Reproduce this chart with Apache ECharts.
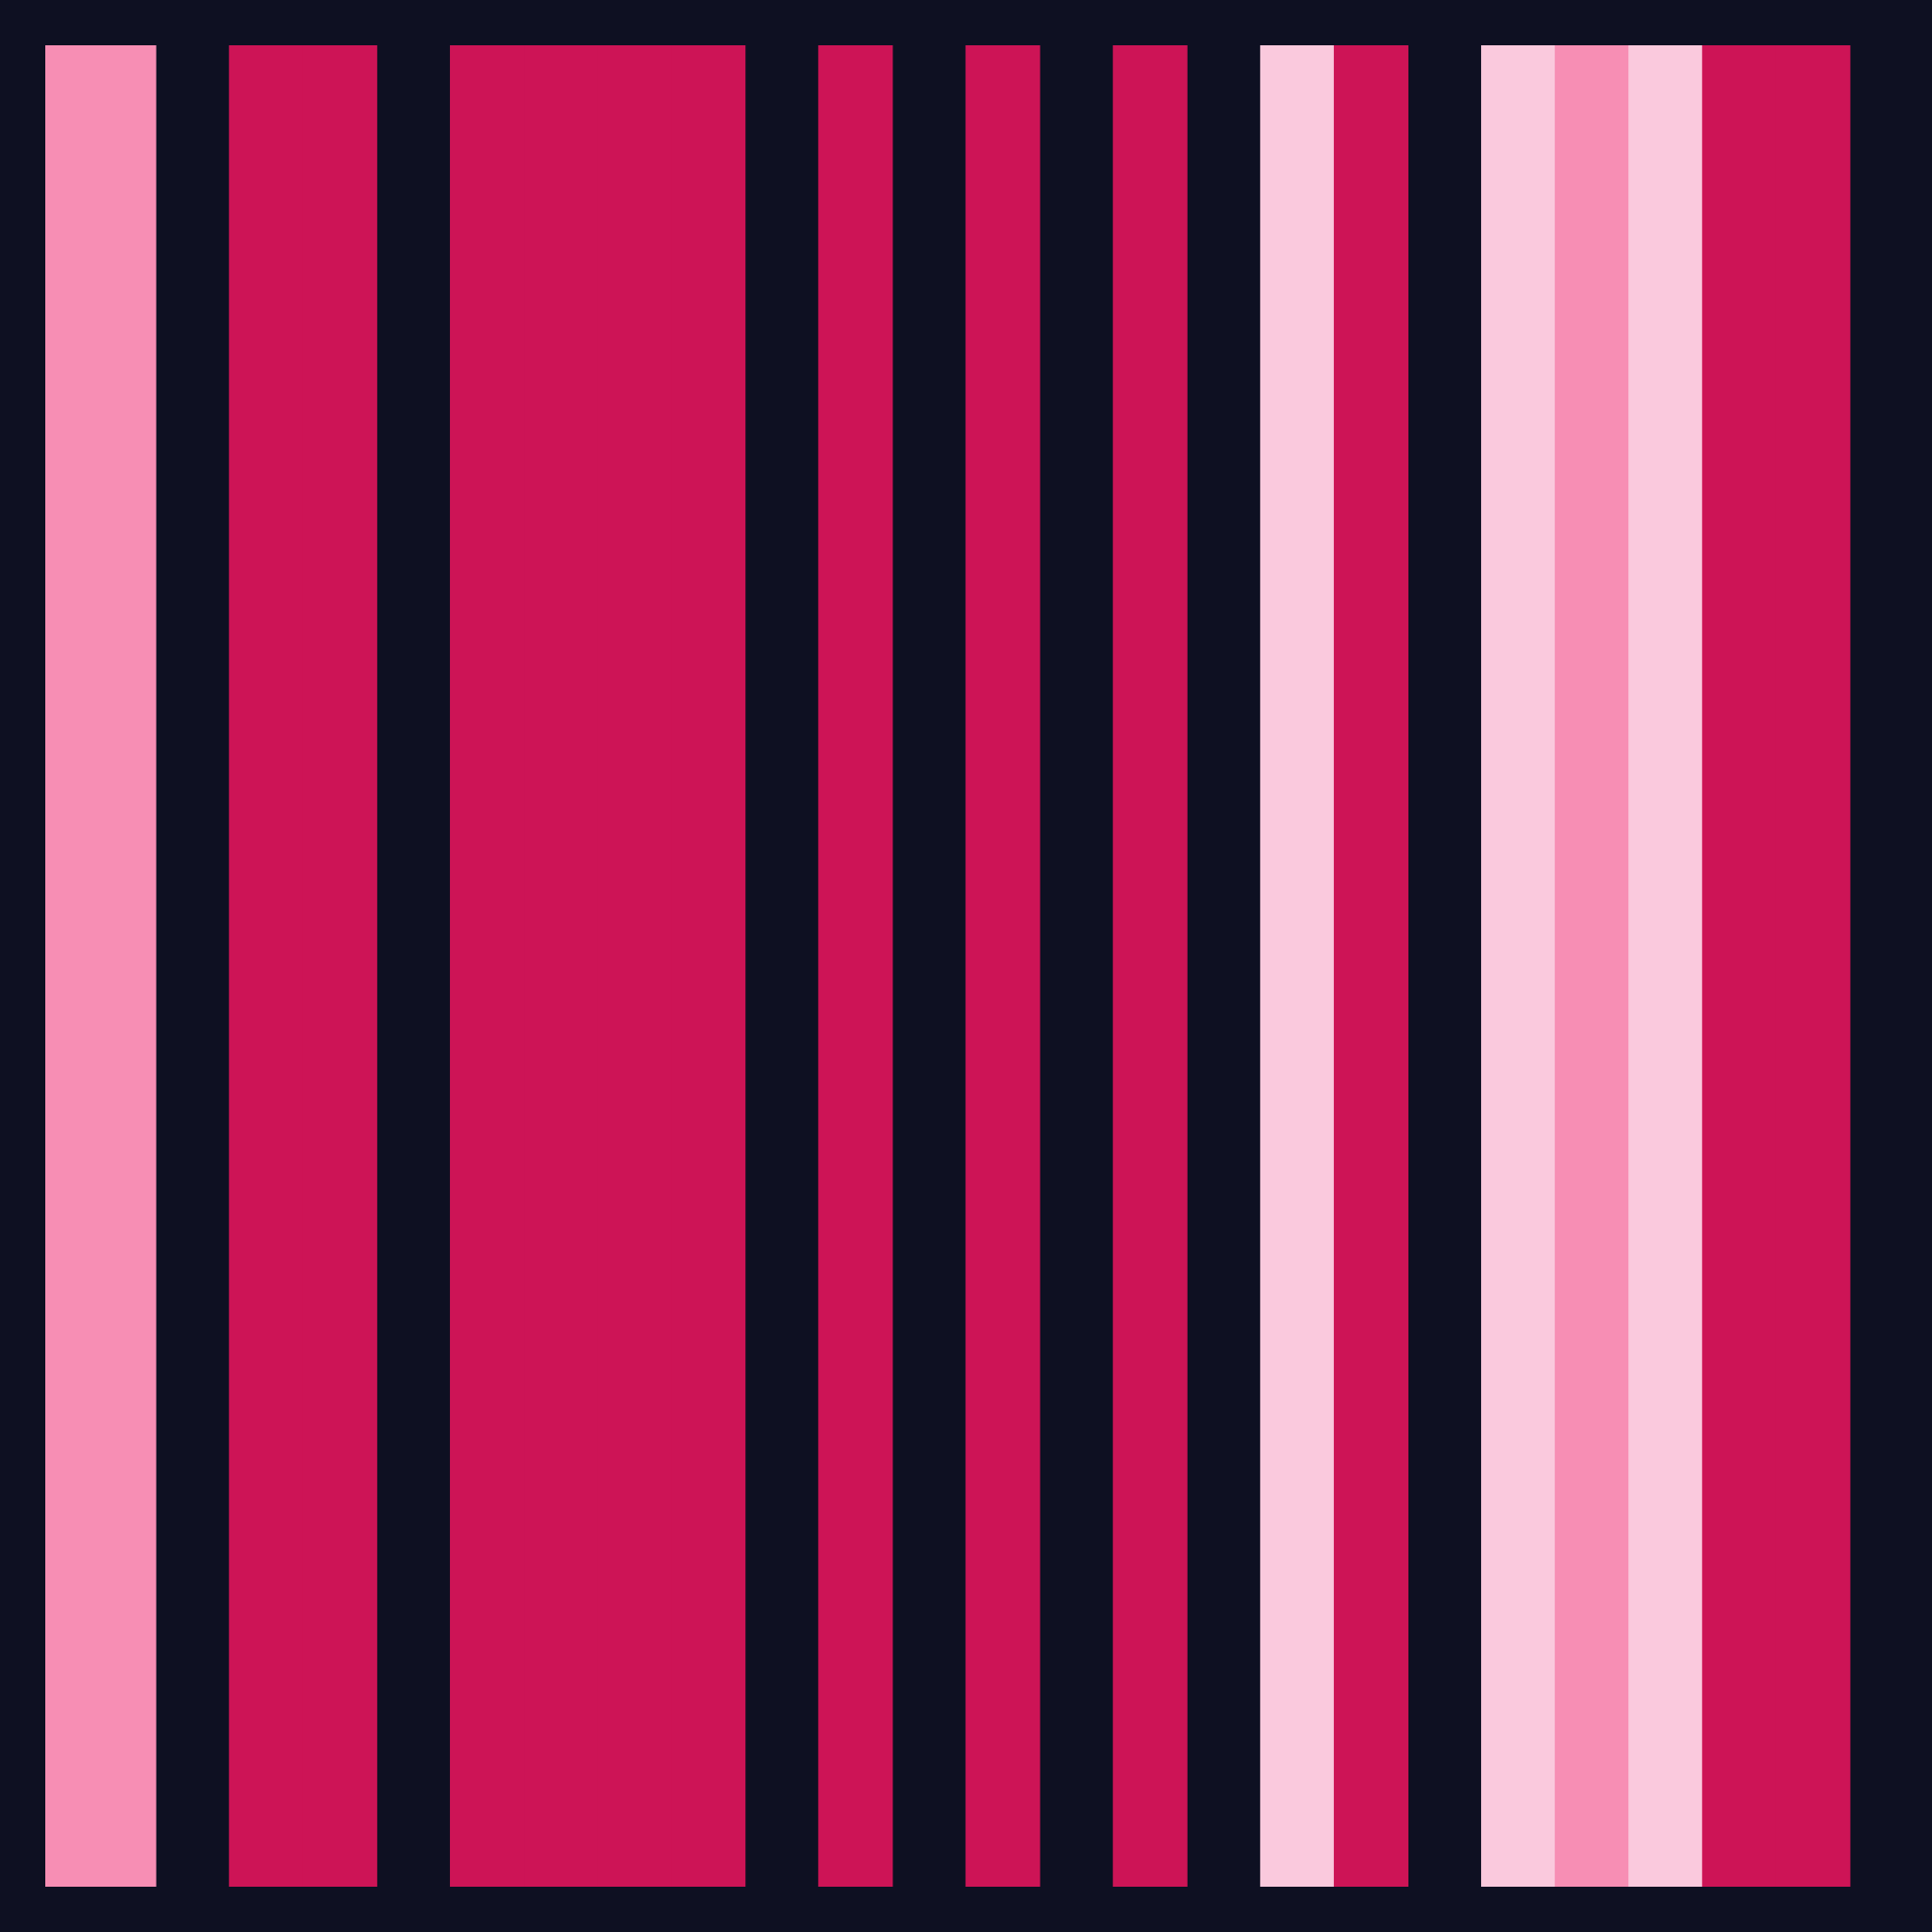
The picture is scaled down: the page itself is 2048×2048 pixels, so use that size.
<!DOCTYPE html>
<html>
<head>
<meta charset="utf-8">
<script src="https://cdn.jsdelivr.net/npm/echarts@6/dist/echarts.min.js"></script>
<style>
html,body{margin:0;padding:0;background:#0E1022;}
#chart{width:2048px;height:2048px;}
</style>
</head>
<body>
<div id="chart"></div>
<script>
// Stripe categories (positions along the x axis)
const categories = ['0','1','2','3','4','5','6','7','8','9','10','11','12','13','14','15','16','17','18','19','20','21','22','23','24','25'];
// Level per stripe: 0 = empty, 1 = light, 2 = mid, 3 = strong
const levels = [2,2,0,3,3,0,3,3,3,3,0,3,0,3,0,3,0,1,3,0,1,2,1,3,3,0];

const palette = {1:'#FAC9DD', 2:'#F78EB4', 3:'#CD1456'};

const chart = echarts.init(document.getElementById('chart'));
chart.setOption({
  backgroundColor: '#0E1022',
  animation: false,
  grid: {left: 48, right: 48, top: 48, bottom: 48},
  xAxis: {
    type: 'category', data: categories, boundaryGap: false,
    show: false
  },
  yAxis: {type: 'value', min: 0, max: 1, show: false},
  series: [{
    type: 'custom',
    clip: true,
    data: levels.map(function (l, i) { return [i, l === 0 ? 0 : 1, l]; }),
    renderItem: function (params, api) {
      const lvl = api.value(2);
      if (!lvl) return null;
      const top = api.coord([api.value(0), 1]);
      const bottom = api.coord([api.value(0), 0]);
      const w = api.size([1, 0])[0];
      return {
        type: 'rect',
        shape: {x: top[0] - w / 2 - 0.5, y: top[1], width: w + 1, height: bottom[1] - top[1]},
        style: {fill: palette[lvl]}
      };
    }
  }]
});
</script>
</body>
</html>
